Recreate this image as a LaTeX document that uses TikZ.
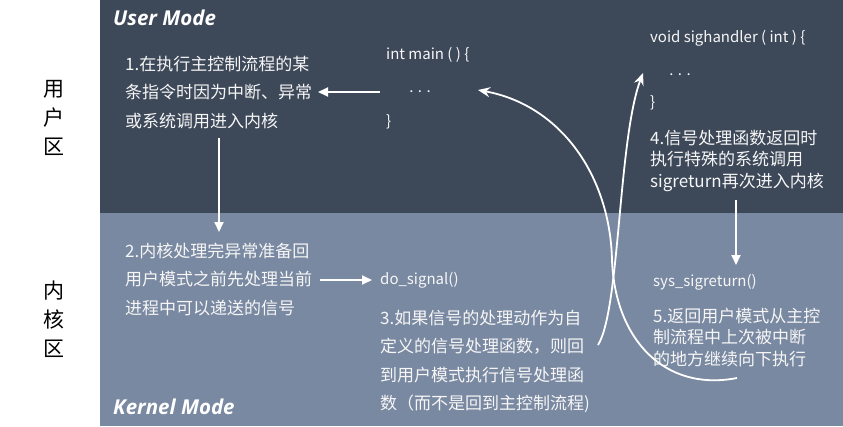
\documentclass[tikz,border=0pt]{standalone}
\usepackage{fontspec}
\newfontfamily\cjk{Noto Sans CJK SC}
\newfontfamily\modefont{Open Sans}
\usetikzlibrary{arrows.meta}
\definecolor{userbg}{RGB}{61,72,89}
\definecolor{kernbg}{RGB}{122,137,162}
\definecolor{txt}{RGB}{246,246,246}
\begin{document}
\begin{tikzpicture}[x=1pt,y=-1pt,
  desc/.style={anchor=north west,inner sep=0pt,align=left,text=txt,font=\cjk\fontsize{17}{28.5}\selectfont},
  descs/.style={desc,font=\cjk\fontsize{17}{21.5}\selectfont},
  code/.style={anchor=west,inner sep=0pt,text=txt,font=\cjk\fontsize{15}{17}\selectfont},
  zone/.style={inner sep=0pt,align=center,text=black,font=\cjk\fontsize{21}{29}\selectfont},
  mode/.style={anchor=west,inner sep=0pt,text=white,font=\modefont\bfseries\itshape\fontsize{20.5}{22}\selectfont},
  flow/.style={draw=white,line width=2pt,-{Triangle[length=10pt,width=9pt]}},
  curvearrow/.style={draw=white,line width=1.8pt,-{Stealth[length=12pt,width=10pt]}}]
\useasboundingbox (0,0) rectangle (843,426);
\fill[userbg] (100,0) rectangle (843,213);
\fill[kernbg] (100,213) rectangle (843,426);
% zone labels
\node[zone] (uz) at (54,118) {用\\户\\区};
\node[zone] (kz) at (54,319) {内\\核\\区};
% mode labels
\node[mode] (um) at (113,18) {User Mode};
\node[mode] (km) at (113,407) {Kernel Mode};
% texts
\node[desc] (t1) at (125,55.5) {1.在执行主控制流程的某\\条指令时因为中断、异常\\或系统调用进入内核};
\node[desc] (t2) at (125,242.5) {2.内核处理完异常准备回\\用户模式之前先处理当前\\进程中可以递送的信号};
\node[desc] (t3) at (380,309.5) {3.如果信号的处理动作为自\\定义的信号处理函数，则回\\到用户模式执行信号处理函\\数（而不是回到主控制流程)};
\node[descs] (t4) at (650,129.5) {4.信号处理函数返回时\\执行特殊的系统调用\\sigreturn再次进入内核};
\node[descs] (t5) at (653,307.5) {5.返回用户模式从主控\\制流程中上次被中断\\的地方继续向下执行};
% code
\node[code] (m1) at (386,55) {int main ( ) \{};
\node[code,anchor=center] (m2) at (420,92) {. . .};
\node[code] (m3) at (386,122) {\}};
\node[code] (h1) at (650,38) {void sighandler ( int ) \{};
\node[code,anchor=center] (h2) at (680,75) {. . .};
\node[code] (h3) at (650,103) {\}};
\node[code] (ds) at (380,280) {do\_signal()};
\node[code] (ss) at (653,282) {sys\_sigreturn()};
% connector ends
\coordinate (a1s) at (380,92);
\coordinate (a1e) at (318,92);
\coordinate (a2s) at (219,138);
\coordinate (a2e) at (219,232);
\coordinate (a3s) at (320,280);
\coordinate (a3e) at (372,280);
\coordinate (a4s) at (736,200);
\coordinate (a4e) at (736,265);
\coordinate (c3s) at (598,345);
\coordinate (c3e) at (643,73);
\coordinate (c5s) at (737,378);
\coordinate (c5m) at (612,260);
\coordinate (c5e) at (478,90);
\draw[flow] (a1s) -- (a1e);
\draw[flow] (a2s) -- (a2e);
\draw[flow] (a3s) -- (a3e);
\draw[flow] (a4s) -- (a4e);
\draw[curvearrow] (c3s) .. controls (620,310) and (618,140) .. (c3e);
\draw[curvearrow] (c5s) .. controls (665,392) and (615,340) .. (c5m) .. controls (610,175) and (560,105) .. (c5e);
\end{tikzpicture}
\end{document}
